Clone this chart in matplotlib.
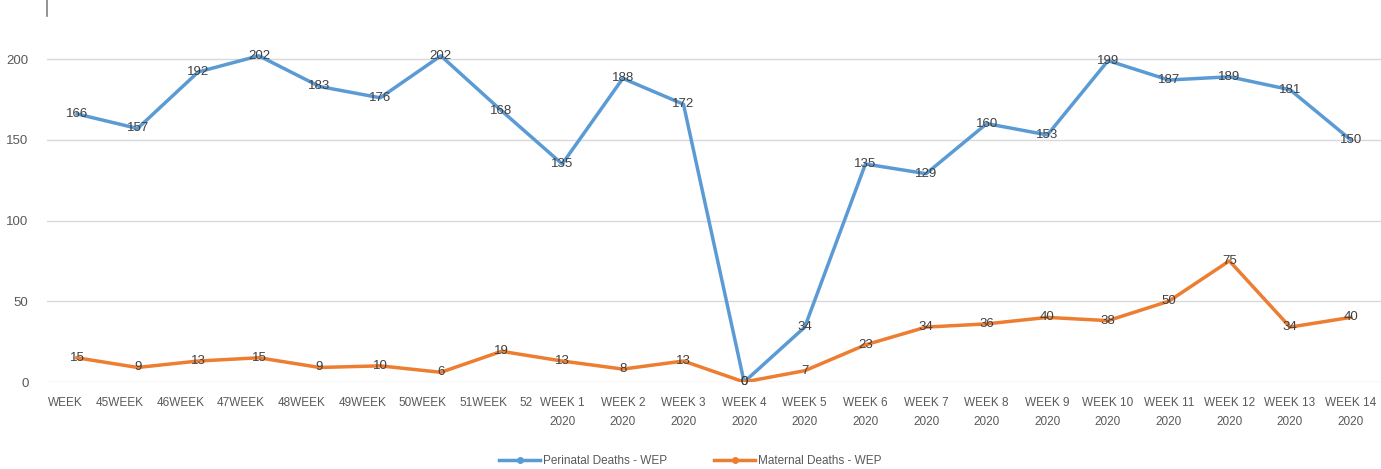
import matplotlib
matplotlib.use("Agg")
import matplotlib.pyplot as plt
from matplotlib.lines import Line2D

plt.rcParams['font.family'] = ['Liberation Sans', 'DejaVu Sans']

# tick texts as they appear (the first weeks overlap oddly in the source)
old_weeks = ["WEEK", "45WEEK", "46WEEK", "47WEEK", "48WEEK", "49WEEK", "50WEEK", "51WEEK"]
new_weeks = ["WEEK %d\n2020" % w for w in range(1, 15)]
perinatal = [166, 157, 192, 202, 183, 176, 202, 168, 135, 188, 172, 0, 34, 135,
             129, 160, 153, 199, 187, 189, 181, 150]
maternal = [15, 9, 13, 15, 9, 10, 6, 19, 13, 8, 13, 0, 7, 23,
            34, 36, 40, 38, 50, 75, 34, 40]
yticks = [0, 50, 100, 150, 200]

blue = '#5B9BD5'
orange = '#ED7D31'
grey = '#595959'
fs = 8.5

fig = plt.figure(figsize=(13.81, 4.69), dpi=100)
ax = fig.add_axes([46.6 / 1381, 1 - 382 / 469, 1 - 46.6 / 1381, (382 - 23.5) / 469])

x = list(range(len(perinatal)))
ax.plot(x, perinatal, color=blue, lw=2.5, solid_joinstyle='round', zorder=3)
ax.plot(x, maternal, color=orange, lw=2.5, solid_joinstyle='round', zorder=3)

for xi, v in zip(x, perinatal):
    ax.text(xi, v, str(v), ha='center', va='center', fontsize=9.5, color='#404040', zorder=4)
for xi, v in zip(x, maternal):
    ax.text(xi, v, str(v), ha='center', va='center', fontsize=9.5, color='#404040', zorder=4)

ax.set_xlim(-0.5, len(x) - 0.5)
ax.set_ylim(0, 222)
ax.set_yticks(yticks)
ax.set_yticklabels([str(t) for t in yticks])
ax.tick_params(axis='y', length=0, pad=13, labelsize=9.5, labelcolor=grey)
ax.yaxis.grid(True, color='#D9D9D9', lw=1)
ax.set_axisbelow(True)
for s in ax.spines.values():
    s.set_visible(False)

# new-year ticks as normal tick labels
ax.set_xticks(x[len(old_weeks):])
ax.set_xticklabels(new_weeks, linespacing=1.7)
ax.tick_params(axis='x', length=0, pad=11, labelsize=fs, labelcolor=grey)

# old weeks: right-aligned just past each point
trans = ax.get_xaxis_transform()
for i, lab in enumerate(old_weeks):
    ax.text(i + 0.1, -0.042, lab, transform=trans, ha='right', va='top',
            fontsize=fs, color=grey)
ax.text(7.51, -0.042, "52", transform=trans, ha='right', va='top', fontsize=fs, color=grey)

handles = [Line2D([], [], color=blue, lw=2.5, marker='o', markersize=4),
           Line2D([], [], color=orange, lw=2.5, marker='o', markersize=4)]
fig.legend(handles, ["Perinatal Deaths - WEP", "Maternal Deaths - WEP"],
           loc='center', bbox_to_anchor=(690 / 1381, 1 - 461 / 469), ncol=2,
           frameon=False, fontsize=fs, labelcolor=grey, handlelength=3.5,
           handletextpad=0.2, columnspacing=4)

# remnant of the cropped header
fig.add_artist(Line2D([47 / 1381, 47 / 1381], [1, 1 - 16 / 469], color='#808080', lw=1.2))

fig.savefig("out.png", dpi=100)
